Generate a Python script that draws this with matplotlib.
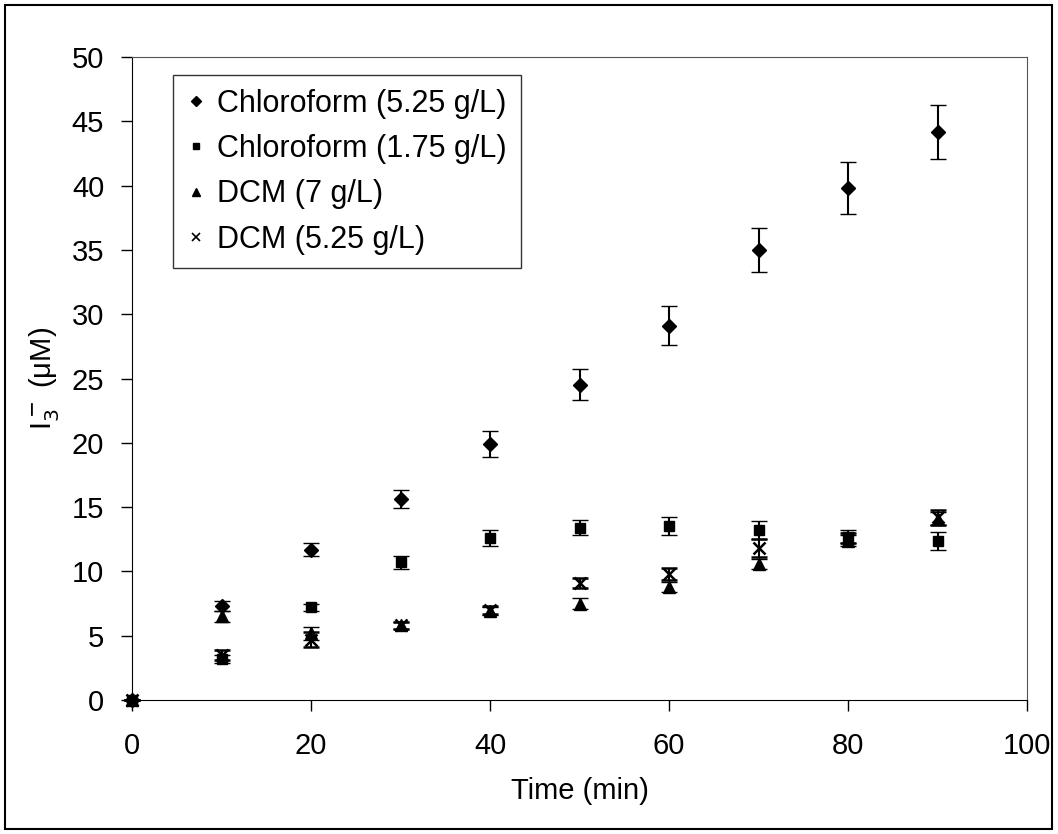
import matplotlib.pyplot as plt
import numpy as np
from matplotlib.patches import Rectangle
from matplotlib.lines import Line2D

plt.rcParams['font.family'] = ['Liberation Sans', 'DejaVu Sans']

time = [0, 10, 20, 30, 40, 50, 60, 70, 80, 90]

chl_525 = [0, 7.3, 11.7, 15.6, 19.9, 24.5, 29.1, 35.0, 39.8, 44.2]
chl_525_err = [0, 0.4, 0.5, 0.7, 1.0, 1.2, 1.5, 1.7, 2.0, 2.1]

chl_175 = [0, 3.2, 7.2, 10.7, 12.6, 13.4, 13.5, 13.2, 12.7, 12.4]
chl_175_err = [0, 0.3, 0.3, 0.5, 0.6, 0.6, 0.7, 0.7, 0.5, 0.7]

dcm_7 = [0, 6.5, 5.2, 5.8, 6.9, 7.5, 8.8, 10.6, 12.4, 14.1]
dcm_7_err = [0, 0.4, 0.5, 0.3, 0.3, 0.4, 0.4, 0.4, 0.4, 0.5]

dcm_525 = [0, 3.5, 4.7, 5.8, 7.0, 9.1, 9.8, 11.8, 12.6, 14.2]
dcm_525_err = [0, 0.4, 0.6, 0.3, 0.3, 0.4, 0.5, 0.7, 0.4, 0.6]

labels = ['Chloroform (5.25 g/L)', 'Chloroform (1.75 g/L)',
          'DCM (7 g/L)', 'DCM (5.25 g/L)']

fig = plt.figure(figsize=(10.58, 8.34), dpi=100)
ax = fig.add_axes([132/1058, 1 - 700/834, 895/1058, 643/834])

series = [
    (chl_525, chl_525_err, 'D', 7.5),
    (chl_175, chl_175_err, 's', 7),
    (dcm_7, dcm_7_err, '^', 8),
    (dcm_525, dcm_525_err, 'x', 8),
]
handles = []
for (y, e, m, ms), lab in zip(series, labels):
    mew = 1.8 if m == 'x' else 1
    ax.errorbar(time, y, yerr=e, fmt=m, ms=ms, color='black', mew=mew,
                ecolor='black', elinewidth=1.5, capsize=6, capthick=1.8,
                linestyle='none', clip_on=False)
    handles.append(Line2D([], [], marker=m, ms=ms * 0.65, color='black',
                          mew=1.2 if m == 'x' else 1, linestyle='none', label=lab))

ax.set_xlim(0, 100)
ax.set_ylim(0, 50)
ax.set_xticks(np.arange(0, 101, 20))
ax.set_yticks(np.arange(0, 51, 5))
ax.tick_params(labelsize=21, direction='out', length=8, width=1)
ax.tick_params(axis='y', pad=12)
ax.tick_params(axis='x', pad=15)
for s in ['top', 'right']:
    ax.spines[s].set_color('#555555')
ax.set_xlabel('Time (min)', fontsize=21, labelpad=12)
ax.set_ylabel('I$_3^-$ (μM)', fontsize=21, labelpad=8)

leg = ax.legend(handles=handles, loc='upper left',
                bbox_to_anchor=(173/1058, 1 - 75/834),
                bbox_transform=fig.transFigure, fontsize=22, frameon=True,
                fancybox=False, edgecolor='black',
                handlelength=0.6, handletextpad=0.4, borderpad=0.45,
                labelspacing=0.5, borderaxespad=0)
leg.get_frame().set_linewidth(1)

fig.patches.append(Rectangle((5/1058, 5/834), 1047/1058, 824/834,
                             transform=fig.transFigure, fill=False,
                             edgecolor='black', linewidth=1.5))

fig.savefig('out.png', dpi=100)
